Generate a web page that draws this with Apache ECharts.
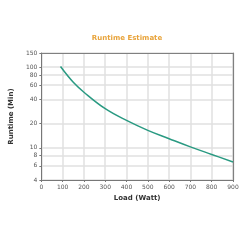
<!DOCTYPE html>
<html><head><meta charset="utf-8">
<script src="https://cdn.jsdelivr.net/npm/echarts@6/dist/echarts.min.js"></script>
<style>html,body{margin:0;padding:0;background:#fff}#c{width:250px;height:250px}</style>
</head><body><div id="c"></div>
<script>
var loads = [90, 150, 200, 300, 400, 500, 600, 700, 800, 900];
var runtimes = [102, 65, 49, 30.6, 21.9, 16.5, 13.0, 10.3, 8.3, 6.7];
var xTicks = [0, 100, 200, 300, 400, 500, 600, 700, 800, 900];
var yTicks = [4, 6, 8, 10, 20, 40, 60, 80, 100, 150];

var frameLine = {show: true, onZero: false, lineStyle: {color: '#808080', width: 1.2}};
var chart = echarts.init(document.getElementById('c'));
chart.setOption({
  animation: false,
  title: {
    text: 'Runtime Estimate', left: 122, top: 30, textAlign: 'center',
    textStyle: {color: '#E8A33A', fontSize: 7, fontWeight: 'bold', fontFamily: 'DejaVu Sans'}
  },
  grid: {left: 34, right: 17, top: 53, bottom: 70, containLabel: false},
  xAxis: [{
    type: 'value', min: 0, max: 900, interval: 100,
    name: 'Load (Watt)', nameLocation: 'middle', nameGap: 13,
    nameTextStyle: {color: '#333', fontSize: 7, fontWeight: 'bold', fontFamily: 'DejaVu Sans'},
    axisLine: {show: true, onZero: false, lineStyle: {color: '#777', width: 1}},
    axisTick: {show: true, length: 2, lineStyle: {color: '#777'}},
    axisLabel: {color: '#555', fontSize: 6, margin: 4, fontFamily: 'DejaVu Sans'},
    splitLine: {show: true, lineStyle: {color: '#e0e0e0', width: 1.5}}
  }, {
    type: 'value', position: 'top', min: 0, max: 900, interval: 100,
    axisLine: frameLine, axisTick: {show: false}, axisLabel: {show: false}, splitLine: {show: false}
  }],
  yAxis: [{
    type: 'log', logBase: 10, min: 4, max: 150,
    name: 'Runtime (Min)', nameLocation: 'middle', nameGap: 17,
    nameTextStyle: {color: '#333', fontSize: 7, fontWeight: 'bold', fontFamily: 'DejaVu Sans'},
    axisLine: {show: true, onZero: false, lineStyle: {color: '#777', width: 1}},
    axisTick: {show: true, length: 2, lineStyle: {color: '#777'}, customValues: yTicks},
    axisLabel: {color: '#555', fontSize: 6, margin: 4, fontFamily: 'DejaVu Sans', customValues: yTicks},
    splitLine: {show: true, lineStyle: {color: '#e0e0e0', width: 1.5}}
  }, {
    type: 'log', logBase: 10, min: 4, max: 150, position: 'right',
    axisLine: frameLine, axisTick: {show: false}, axisLabel: {show: false}, splitLine: {show: false}
  }],
  series: [{
    type: 'line', smooth: 0.4, showSymbol: false, xAxisIndex: 0, yAxisIndex: 0,
    data: loads.map(function (x, i) { return [x, runtimes[i]]; }),
    lineStyle: {color: '#2A9A82', width: 1.5}
  }]
});
</script></body></html>
